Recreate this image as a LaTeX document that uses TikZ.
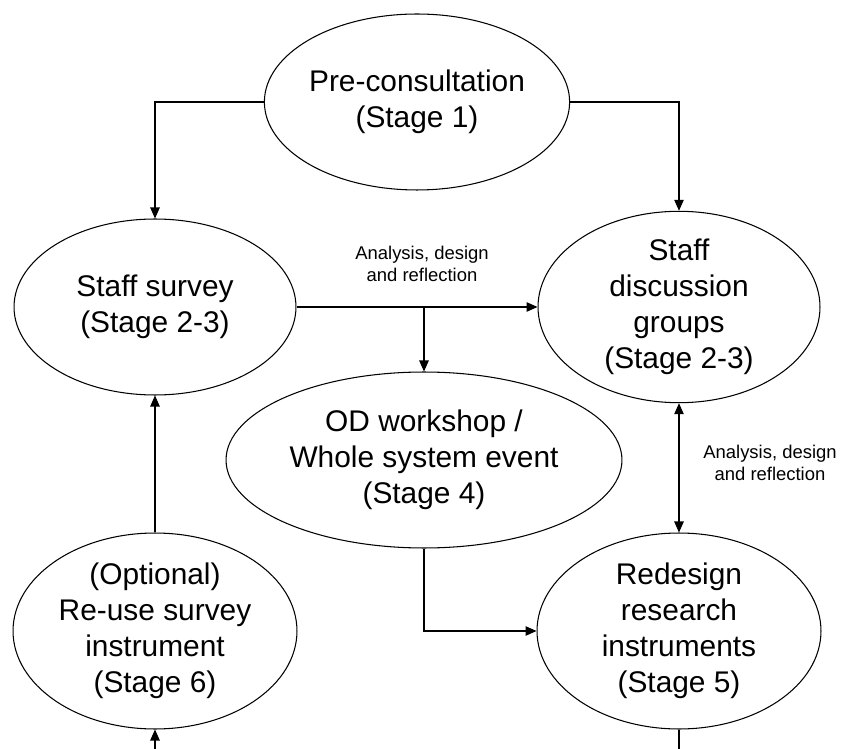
\documentclass[tikz,border=0pt]{standalone}
\usepackage{fontspec}
\setmainfont{Liberation Sans}
\usetikzlibrary{shapes.geometric,arrows.meta}

\tikzset{
  stage/.style={ellipse, draw, line width=0.6pt, inner sep=0pt, align=center,
    minimum width=5.64cm, minimum height=3.52cm,
    font=\fontsize{17}{20.4}\selectfont},
  tall/.style={minimum width=5.68cm, minimum height=3.92cm},
  note/.style={align=center, font=\fontsize{10.5}{12.6}\selectfont},
  link/.style={line width=0.6pt, -{Triangle[length=2.2mm,width=1.9mm]}},
  both/.style={line width=0.6pt, {Triangle[length=2.2mm,width=1.9mm]}-{Triangle[length=2.2mm,width=1.9mm]}}
}

\begin{document}
\begin{tikzpicture}[x=0.02cm, y=-0.02cm]
  \useasboundingbox (0,0) rectangle (841,749);
  % stages
  \node[stage] (pre) at(417,102){Pre-consultation\\(Stage 1)};
  \node[stage] (survey) at(155,307){Staff survey\\(Stage 2-3)};
  \node[stage] (groups) at(679,307){Staff\\discussion\\groups\\(Stage 2-3)};
  \node[stage, minimum width=7.92cm] (od) at(424,460){OD workshop /\\Whole system event\\(Stage 4)};
  \node[stage, tall] (redesign) at(679,631){Redesign\\research\\instruments\\(Stage 5)};
  \node[stage, tall] (reuse) at(155,631){(Optional)\\Re-use survey\\instrument\\(Stage 6)};
  % notes
  \node[note] (note1) at(422,264){Analysis, design\\and reflection};
  \node[note] (note2) at(770,463){Analysis, design\\and reflection};
  % ends cut off at the bottom
  \coordinate (inb) at(155,749);
  \coordinate (outb) at(679,749);
  \draw[link] (pre.west) -| (survey.north);
  \draw[link] (pre.east) -| (groups.north);
  \draw[link] (survey.east) -- (groups.west);
  \draw[link] (od.north |- survey.east) -- (od.north);
  \draw[both] (groups.south) -- (redesign.north);
  \draw[link] (od.south) |- (redesign.west);
  \draw[link] (reuse.north) -- (survey.south);
  \draw[link] (inb) -- (reuse.south);
  \draw[line width=0.6pt] (redesign.south) -- (outb);
\end{tikzpicture}
\end{document}
